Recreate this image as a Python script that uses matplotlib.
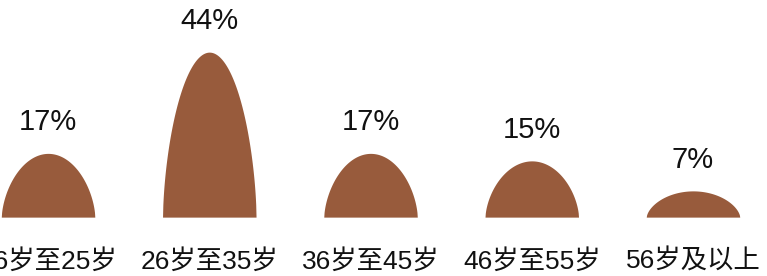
import numpy as np
import matplotlib.pyplot as plt

categories = ['16岁至25岁', '26岁至35岁', '36岁至45岁', '46岁至55岁', '56岁及以上']
shares = [17, 44, 17, 15, 7]

plt.rcParams['font.family'] = ['Liberation Sans', 'Noto Sans CJK SC', 'DejaVu Sans']

fig = plt.figure(figsize=(7.67, 2.76), dpi=100)
ax = fig.add_axes([0, 0, 1, 1])

color = '#985b3c'
half = 0.29
for i, v in enumerate(shares):
    t = np.linspace(-1, 1, 300)
    y = v * (1 - t ** 2) ** 0.6
    ax.fill_between(i + t * half, 0, y, color=color, lw=0)
    ax.annotate(f'{v}%', (i, v), xytext=(0, 22.5), textcoords='offset points',
                ha='center', va='center', fontsize=21, color='#111111')
    ax.annotate(categories[i], (i, 0), xytext=(0, -32), textcoords='offset points',
                ha='center', va='center', fontsize=19, color='#111111')

ax.set_xlim(-0.298, 4.459)
ax.set_ylim(-15.7, 57.9)
ax.axis('off')

fig.savefig('out.png', dpi=100)
